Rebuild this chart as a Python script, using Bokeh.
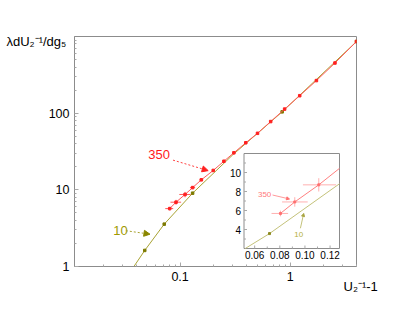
from bokeh.plotting import figure
from bokeh.models import (Range1d, LinearScale, FixedTicker, Label, Arrow,
                          NormalHead, CustomJSTickFormatter)
from bokeh.embed import file_html
from bokeh.resources import INLINE
from bokeh.core.properties import value

# ---------------- data ----------------
series_names = ["350", "10"]
y_title = "\u03bbdU\u2082\u207b\u00b9/dg\u2085"
x_title = "U\u2082\u207b\u00b9-1"

red_x = [0.0805, 0.0919, 0.111, 0.13, 0.156, 0.2, 0.25, 0.308, 0.395, 0.505,
         0.665, 0.89, 1.22, 1.73, 2.55, 4.0]
red_y = [5.69, 6.9, 8.7, 10.7, 13.5, 17.9, 23.6, 30.4, 41.1, 54.6,
         77.7, 113.0, 169.0, 266.0, 451.0, 860.0]
red_xlo = [0.0734, 0.0818, 0.0984, 0.123, 0.150, 0.2, 0.25, 0.308, 0.395, 0.505,
           0.665, 0.89, 1.22, 1.73, 2.55, 4.0]
red_xhi = [0.0866, 0.1022, 0.1248, 0.137, 0.162, 0.2, 0.25, 0.308, 0.395, 0.505,
           0.665, 0.89, 1.22, 1.73, 2.55, 4.0]
red_ylo = [5.39, 6.4, 8.0, 10.2, 13.0, 17.3, 23.0, 30.4, 41.1, 54.6,
           77.7, 113.0, 169.0, 266.0, 451.0, 860.0]
red_yhi = [5.99, 7.4, 9.4, 11.2, 14.0, 18.5, 24.2, 30.4, 41.1, 54.6,
           77.7, 113.0, 169.0, 266.0, 451.0, 860.0]

olive_pts_x = [0.0478, 0.0718, 0.13, 0.845, 4.0]
olive_pts_y = [1.62, 3.57, 9.05, 104.0, 860.0]
olive_line_x = [0.0381, 0.0478, 0.0718, 0.13, 0.3, 0.845, 4.0]
olive_line_y = [1.0, 1.62, 3.57, 9.05, 28.5, 104.0, 860.0]

x_major = [0.1, 1.0]
x_minor = [0.02, 0.03, 0.04, 0.05, 0.06, 0.07, 0.08, 0.09,
           0.2, 0.3, 0.4, 0.5, 0.6, 0.7, 0.8, 0.9, 2.0, 3.0, 4.0]
y_major = [1.0, 10.0, 100.0]
y_minor = [2, 3, 4, 5, 6, 7, 8, 9, 20, 30, 40, 50, 60, 70, 80, 90,
           200, 300, 400, 500, 600, 700, 800, 900]

inset_x_range = [0.0515, 0.1275]
inset_y_range = [2.0, 12.0]
inset_x_ticks = [0.06, 0.08, 0.10, 0.12]
inset_x_labels = ["0.06", "0.08", "0.10", "0.12"]
inset_x_minor = [0.07, 0.09, 0.11]
inset_y_ticks = [4.0, 6.0, 8.0, 10.0]
inset_y_labels = ["4", "6", "8", "10"]
inset_y_minor = [3.0, 5.0, 7.0, 9.0, 11.0]

# ---------------- styling ----------------
FONT = "Liberation Sans"
RED_LINE = "#ff5a5a"
RED_PT = "#ff2020"
OLIVE_LINE = "#a8a232"
OLIVE_PT = "#7d7a00"
GRAY = "#8c8c8c"
TICK = "#a8a8a8"

BL, BR, BT, BB = 74, 50, 36, 46
FW, FH = 282, 230
W, H = BL + FW + BR, BT + FH + BB

p = figure(width=W, height=H, x_axis_type="log", y_axis_type="log",
           x_range=Range1d(0.011, 4.0), y_range=Range1d(1.0, 1000.0),
           output_backend="svg", toolbar_location=None, title=None,
           min_border_left=BL, min_border_right=BR,
           min_border_top=BT, min_border_bottom=BB)
p.xgrid.visible = False
p.ygrid.visible = False
p.outline_line_color = GRAY
p.background_fill_color = "white"
p.border_fill_color = "white"

fmt = CustomJSTickFormatter(code="return String(tick);")
p.xaxis.ticker = FixedTicker(ticks=x_major, minor_ticks=x_minor)
p.yaxis.ticker = FixedTicker(ticks=y_major, minor_ticks=y_minor)
for ax in (p.xaxis[0], p.yaxis[0]):
    ax.formatter = fmt
    ax.major_tick_in = 4
    ax.major_tick_out = 0
    ax.minor_tick_in = 2
    ax.minor_tick_out = 0
    ax.major_tick_line_color = TICK
    ax.minor_tick_line_color = TICK
    ax.axis_line_color = GRAY
    ax.major_label_text_font = FONT
    ax.major_label_text_font_size = "12.5px"
    ax.major_label_text_color = "black"
    ax.major_label_standoff = 5

# ---------------- main plot ----------------
p.line(olive_line_x, olive_line_y, line_color=OLIVE_LINE, line_width=1)
p.scatter(olive_pts_x, olive_pts_y, marker="square", size=2.5,
          fill_color=OLIVE_PT, line_color=OLIVE_PT)

p.line(red_x, red_y, line_color=RED_LINE, line_width=1)
p.segment(red_xlo, red_y, red_xhi, red_y, line_color=RED_LINE, line_width=1)
p.segment(red_x, red_ylo, red_x, red_yhi, line_color=RED_LINE, line_width=1)
p.scatter(red_x, red_y, marker="square", size=2.5,
          fill_color=RED_PT, line_color=RED_PT)

p.add_layout(Label(x=0.0644, y=29.3, text=series_names[0], text_color="#ff1a1a",
                   text_font=FONT, text_font_size="13px",
                   text_align="center", text_baseline="middle"))
p.add_layout(Arrow(x_start=0.0863, y_start=24.4, x_end=0.180, y_end=17.8,
                   line_color="#ff4040", line_dash="2 2", line_width=1,
                   end=NormalHead(size=6, fill_color="#ff2020", line_color="#ff2020")))
p.add_layout(Label(x=0.0288, y=2.93, text=series_names[1], text_color="#a09a00",
                   text_font=FONT, text_font_size="13px",
                   text_align="center", text_baseline="middle"))
p.add_layout(Arrow(x_start=0.0322, y_start=2.93, x_end=0.0533, y_end=2.64,
                   line_color="#a8a232", line_dash="2 2", line_width=1,
                   end=NormalHead(size=6, fill_color="#8a8600", line_color="#8a8600")))

# ---------------- inset (linear scales mapped onto a sub-box of the frame) ----------------
IL, IR, IB, IT = 169.5, 265.0, 18.0, 113.0   # inset box in frame pixels
ix0, ix1 = inset_x_range
iy0, iy1 = inset_y_range
sx = (ix1 - ix0) / (IR - IL)
sy = (iy1 - iy0) / (IT - IB)
p.extra_x_ranges = {"ix": Range1d(ix0 - IL * sx, ix0 - IL * sx + FW * sx)}
p.extra_y_ranges = {"iy": Range1d(iy0 - IB * sy, iy0 - IB * sy + FH * sy)}
p.extra_x_scales = {"ix": LinearScale()}
p.extra_y_scales = {"iy": LinearScale()}
IN = dict(x_range_name="ix", y_range_name="iy")


def clip_seg(x0, y0, x1, y1):
    dx, dy = x1 - x0, y1 - y0
    u0, u1 = 0.0, 1.0
    for pi, qi in ((-dx, x0 - ix0), (dx, ix1 - x0), (-dy, y0 - iy0), (dy, iy1 - y0)):
        if pi == 0:
            if qi < 0:
                return None
        else:
            t = qi / pi
            if pi < 0:
                u0 = max(u0, t)
            else:
                u1 = min(u1, t)
    if u0 > u1:
        return None
    return (x0 + u0 * dx, y0 + u0 * dy, x0 + u1 * dx, y0 + u1 * dy)


def clipped(xs, ys):
    out = ([], [], [], [])
    for i in range(len(xs) - 1):
        s = clip_seg(xs[i], ys[i], xs[i + 1], ys[i + 1])
        if s:
            for k in range(4):
                out[k].append(s[k])
    return out


def inside(x, y):
    return ix0 <= x <= ix1 and iy0 <= y <= iy1


p.quad(left=[ix0], right=[ix1], bottom=[iy0], top=[iy1], fill_color="white",
       line_color=GRAY, line_width=1, **IN)

# inset ticks
tx = sx   # data per pixel
ty = sy
p.segment(inset_x_ticks, [iy0] * 4, inset_x_ticks, [iy0 + 3 * ty] * 4, line_color=TICK, **IN)
p.segment(inset_x_minor, [iy0] * 3, inset_x_minor, [iy0 + 2 * ty] * 3, line_color=TICK, **IN)
p.segment([ix0] * 4, inset_y_ticks, [ix0 + 3 * tx] * 4, inset_y_ticks, line_color=TICK, **IN)
p.segment([ix0] * 5, inset_y_minor, [ix0 + 2 * tx] * 5, inset_y_minor, line_color=TICK, **IN)
p.text(inset_x_ticks, [iy0] * 4, text=inset_x_labels, text_font=value(FONT),
       text_font_size="10px", text_align="center", text_baseline="top",
       y_offset=2, text_color="black", **IN)
p.text([ix0] * 4, inset_y_ticks, text=inset_y_labels, text_font=value(FONT),
       text_font_size="10px", text_align="right", text_baseline="middle",
       x_offset=-3, text_color="black", **IN)

# inset curves
ox0, oy0, ox1, oy1 = clipped(olive_line_x, olive_line_y)
p.segment(ox0, oy0, ox1, oy1, line_color="#c4c27a", line_width=1, **IN)
opx = [x for x, y in zip(olive_pts_x, olive_pts_y) if inside(x, y)]
opy = [y for x, y in zip(olive_pts_x, olive_pts_y) if inside(x, y)]
p.scatter(opx, opy, marker="square", size=2, fill_color="#8d8a20",
          line_color="#8d8a20", **IN)

rx0, ry0, rx1, ry1 = clipped(red_x, red_y)
p.segment(rx0, ry0, rx1, ry1, line_color="#ff8080", line_width=1, **IN)
sel = [i for i in range(len(red_x)) if inside(red_x[i], red_y[i])]
p.segment([red_xlo[i] for i in sel], [red_y[i] for i in sel],
          [red_xhi[i] for i in sel], [red_y[i] for i in sel],
          line_color="#ffb0b0", line_width=1, **IN)
p.segment([red_x[i] for i in sel], [red_ylo[i] for i in sel],
          [red_x[i] for i in sel], [red_yhi[i] for i in sel],
          line_color="#ffb0b0", line_width=1, **IN)
p.scatter([red_x[i] for i in sel], [red_y[i] for i in sel], marker="square",
          size=2, fill_color="#ff7070", line_color="#ff7070", **IN)

p.add_layout(Label(x=0.0679, y=7.66, text=series_names[0], text_color="#ff7a7a",
                   text_font=FONT, text_font_size="8px", text_align="center",
                   text_baseline="middle", **IN))
p.add_layout(Arrow(x_start=0.0742, y_start=7.63, x_end=0.0877, y_end=7.21,
                   line_color="#ff9a9a", line_width=1, **IN,
                   end=NormalHead(size=3, fill_color="#ff7070", line_color="#ff7070")))
p.add_layout(Label(x=0.095, y=3.51, text=series_names[1], text_color="#b4b040",
                   text_font=FONT, text_font_size="8px", text_align="center",
                   text_baseline="middle", **IN))
p.add_layout(Arrow(x_start=0.0964, y_start=4.13, x_end=0.099, y_end=5.69,
                   line_color="#c4c27a", line_width=1, **IN,
                   end=NormalHead(size=3, fill_color="#a8a440", line_color="#a8a440")))

# ---------------- axis titles (one label per empty side panel, not clipped) ----------------
p.add_layout(Label(x=-68, y=-5, x_units="screen", y_units="screen", text=y_title,
                   text_font=FONT, text_font_size="13px", text_color="black",
                   text_baseline="alphabetic", text_align="left"), "above")
p.add_layout(Label(x=-13, y=-20, x_units="screen", y_units="screen", text=x_title,
                   text_font=FONT, text_font_size="13px", text_color="black",
                   text_baseline="alphabetic", text_align="left"), "right")

open("out.html", "w").write(file_html(p, INLINE))
